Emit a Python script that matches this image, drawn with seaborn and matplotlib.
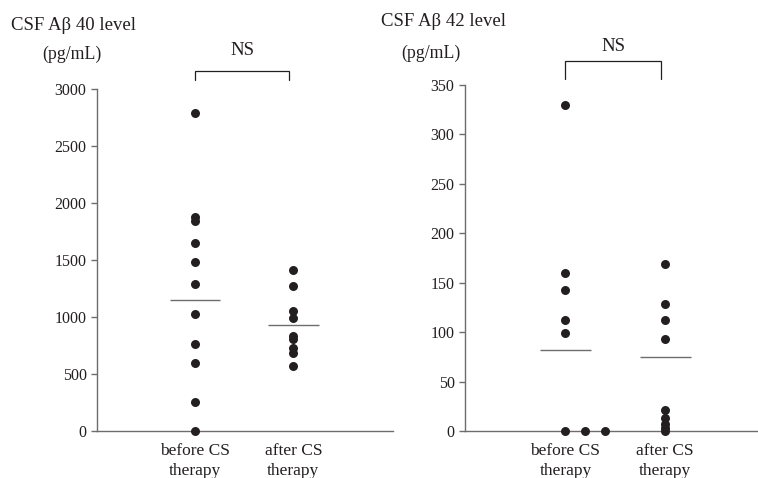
import numpy as np
import pandas as pd
import matplotlib
matplotlib.use("Agg")
import matplotlib.pyplot as plt
import seaborn as sns

# ---- data ----
categories = ["before CS\ntherapy", "after CS\ntherapy"]
before_ab40 = [2790, 1880, 1840, 1650, 1485, 1290, 1030, 763, 599, 257, 0]
after_ab40 = [1412, 1272, 1055, 989, 833, 804, 727, 688, 568]
mean_ab40 = [1150, 927]
before_ab42 = [330, 160, 143, 112, 99, 0, 0, 0]
after_ab42 = [169, 128, 112, 93, 21, 13, 7, 3, 0]
mean_ab42 = [82, 75]
ticks_ab40 = [0, 500, 1000, 1500, 2000, 2500, 3000]
ticks_ab42 = [0, 50, 100, 150, 200, 250, 300, 350]

sns.set_theme(style="ticks")
plt.rcParams["font.family"] = ["Liberation Serif", "DejaVu Serif"]

INK = "#231f20"
AXC = "#6d6d6d"
W, H = 758, 478
fig = plt.figure(figsize=(W / 100, H / 100), dpi=100)


def make_df(before, after):
    df = pd.DataFrame({
        "group": [0] * len(before) + [1] * len(after),
        "value": list(before) + list(after),
    })
    # spread exact duplicates sideways (as in the original figure)
    dup = df.groupby(["group", "value"]).cumcount()
    df["xpos"] = df["group"] + 0.2 * dup
    return df


def panel(rect, before, after, means, ticks, ymax, xlim, title, title_xy,
          unit_xy, bracket_y, ns_y):
    ax = fig.add_axes(rect)
    df = make_df(before, after)
    sns.scatterplot(data=df, x="xpos", y="value", ax=ax, color=INK,
                    s=42, edgecolor=INK, linewidth=0, legend=False,
                    clip_on=False, zorder=3)
    for i, m in enumerate(means):
        ax.hlines(m, i - 0.255, i + 0.255, color=AXC, lw=1.0, zorder=2)
    ax.set_xlim(*xlim)
    ax.set_ylim(0, ymax)
    ax.set_yticks(ticks)
    ax.set_yticklabels([str(t) for t in ticks])
    ax.set_xticks([0, 1])
    ax.set_xticklabels(categories, linespacing=1.35)
    ax.set_xlabel("")
    ax.set_ylabel("")
    sns.despine(ax=ax)
    for sp in ("left", "bottom"):
        ax.spines[sp].set_color(AXC)
        ax.spines[sp].set_linewidth(1.0)
    ax.tick_params(axis="y", direction="out", length=4.5, width=1.0,
                   color=AXC, labelsize=11.5, labelcolor=INK, pad=3)
    ax.tick_params(axis="x", length=0, labelsize=12.5, labelcolor=INK, pad=8.5)
    # bracket
    yb0, yb1 = bracket_y
    ax.plot([0.0, 0.0, 0.96, 0.96], [yb0, yb1, yb1, yb0], color=INK,
            lw=0.9, clip_on=False, solid_joinstyle="miter")
    ax.text(0.48, ns_y, "NS", ha="center", va="center", fontsize=13.5,
            color=INK, clip_on=False)
    fig.text(title_xy[0] / W, 1 - title_xy[1] / H, title, ha="left",
             va="center", fontsize=13.5, color=INK)
    fig.text(unit_xy[0] / W, 1 - unit_xy[1] / H, "(pg/mL)", ha="left",
             va="center", fontsize=12.8, color=INK)
    return ax


panel([97 / W, (H - 431) / H, (393 - 97) / W, (431 - 89) / H],
      before_ab40, after_ab40, mean_ab40, ticks_ab40, 3000, (-0.99, 2.01),
      "CSF A\u03b2 40 level", (11, 25), (42, 54), (3079, 3158), 3342)

panel([465 / W, (H - 431) / H, (758 - 465) / W, (431 - 85) / H],
      before_ab42, after_ab42, mean_ab42, ticks_ab42, 350, (-1.007, 1.93),
      "CSF A\u03b2 42 level", (381, 21), (401, 53), (356, 374.6), 388.5)

fig.savefig("out.png", dpi=100)
